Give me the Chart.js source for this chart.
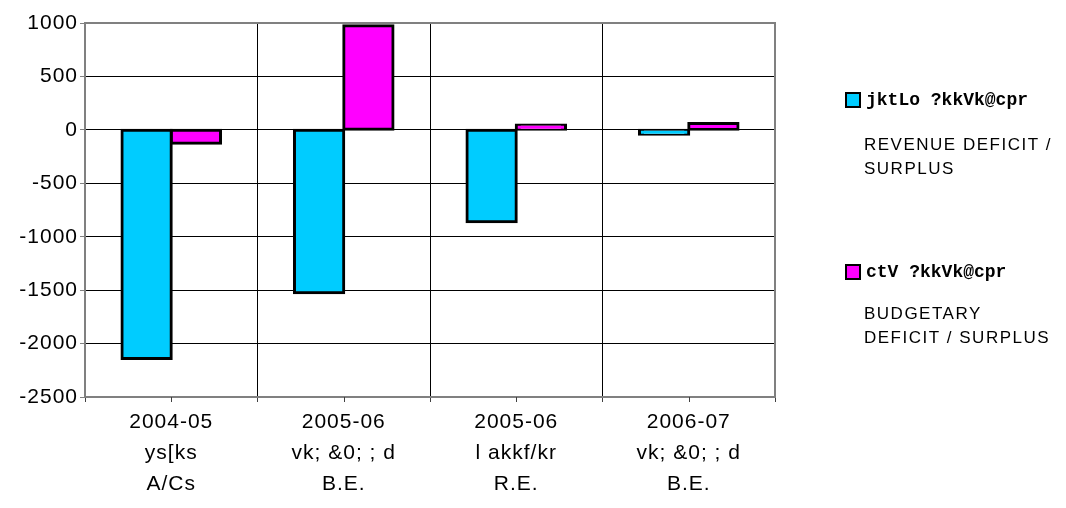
<!DOCTYPE html>
<html>
<head>
<meta charset="utf-8">
<script src="https://cdn.jsdelivr.net/npm/chart.js@4/dist/chart.umd.min.js"></script>
<style>
  html, body { margin: 0; padding: 0; background: #fff; }
  #wrap { width: 1066px; height: 508px; }
</style>
</head>
<body>
<div id="wrap"><canvas id="chart" width="1066" height="508"></canvas></div>
<script>
// categories (three text lines under each group)
const years = ['2004-05', '2005-06', '2005-06', '2006-07'];
const hindiLabels = ['ys[ks', 'vk; &0; ; d', 'l akkf/kr', 'vk; &0; ; d'];
const englishLabels = ['A/Cs', 'B.E.', 'R.E.', 'B.E.'];

// series values
const revenueDeficit = [-2140, -1525, -860, -40];
const budgetaryDeficit = [-125, 975, 45, 60];

// y axis ticks
const yTicks = [1000, 500, 0, -500, -1000, -1500, -2000, -2500];

// legend texts
const legendHindi = ['jktLo ?kkVk@cpr', 'ctV ?kkVk@cpr'];
const legendEnglish = [['REVENUE DEFICIT /', 'SURPLUS'], ['BUDGETARY', 'DEFICIT / SURPLUS']];

const FONT = "'Liberation Sans', Arial, sans-serif";

// spread the letters a little, like the original rendering
const spacingPlugin = {
    id: 'spacing',
    beforeLayout(chart) { chart.ctx.letterSpacing = '1px'; },
    beforeDraw(chart) { chart.ctx.letterSpacing = '1px'; }
};

// plot border, centre ticks and the legend on the right
const framePlugin = {
    id: 'frame',
    afterDatasetsDraw(chart) {
        const ctx = chart.ctx;
        const a = chart.chartArea;
        const xs = chart.scales.x;
        ctx.save();
        ctx.strokeStyle = '#808080';
        ctx.lineWidth = 2;
        ctx.strokeRect(a.left, a.top, a.right - a.left, a.bottom - a.top);

        // small ticks under the middle of each group
        ctx.lineWidth = 1;
        ctx.strokeStyle = '#404040';
        years.forEach((y, i) => {
            const px = Math.round(xs.getPixelForValue(i)) + 0.5;
            ctx.beginPath();
            ctx.moveTo(px, a.bottom);
            ctx.lineTo(px, a.bottom + 5);
            ctx.stroke();
        });

        // legend
        const boxTops = [93, 265];
        const descTops = [145, 314];
        chart.data.datasets.forEach((ds, i) => {
            ctx.fillStyle = ds.backgroundColor;
            ctx.fillRect(846, boxTops[i], 14, 14);
            ctx.strokeStyle = '#000';
            ctx.lineWidth = 2;
            ctx.strokeRect(846, boxTops[i], 14, 14);

            ctx.fillStyle = '#000';
            ctx.textBaseline = 'middle';
            ctx.textAlign = 'left';
            ctx.letterSpacing = '0px';
            ctx.font = "bold 18px 'Liberation Mono', 'DejaVu Sans Mono', monospace";
            ctx.fillText(legendHindi[i], 866, boxTops[i] + 7);

            ctx.letterSpacing = '1.5px';
            ctx.font = '17px ' + FONT;
            legendEnglish[i].forEach((line, j) => {
                ctx.fillText(line, 864, descTops[i] + j * 24);
            });
        });
        ctx.restore();
    }
};

const ctx = document.getElementById('chart').getContext('2d');

new Chart(ctx, {
    type: 'bar',
    data: {
        labels: years.map((y, i) => [y, hindiLabels[i], englishLabels[i]]),
        datasets: [{
            label: legendHindi[0],
            data: revenueDeficit,
            backgroundColor: '#00CCFF',
            borderColor: '#000',
            borderWidth: 3,
            inflateAmount: 1.5,
            borderSkipped: false
        }, {
            label: legendHindi[1],
            data: budgetaryDeficit,
            backgroundColor: '#FF00FF',
            borderColor: '#000',
            borderWidth: 3,
            inflateAmount: 1.5,
            borderSkipped: false
        }]
    },
    options: {
        responsive: false,
        animation: false,
        events: [],
        layout: { padding: { left: 0, right: 291, top: 23, bottom: 0 } },
        categoryPercentage: 2 / 3.5,
        barPercentage: 1,
        plugins: {
            legend: { display: false },
            tooltip: { enabled: false }
        },
        scales: {
            x: {
                afterFit(axis) { axis.height = 111; },
                grid: {
                    offset: true,
                    color: '#000',
                    lineWidth: 1,
                    tickLength: 5,
                    tickColor: '#404040'
                },
                border: { display: false },
                ticks: {
                    color: '#000',
                    padding: 5,
                    maxRotation: 0,
                    autoSkip: false,
                    font: { family: FONT, size: 21, lineHeight: 1.48 }
                }
            },
            y: {
                min: yTicks[yTicks.length - 1],
                max: yTicks[0],
                afterFit(axis) { axis.width = 85; },
                afterBuildTicks(axis) { axis.ticks = yTicks.map(v => ({ value: v })); },
                grid: {
                    color: '#000',
                    lineWidth: 1,
                    tickLength: 5,
                    tickColor: '#808080'
                },
                border: { display: false },
                ticks: {
                    color: '#000',
                    padding: 2,
                    callback: v => String(v),
                    font: { family: FONT, size: 21 }
                }
            }
        }
    },
    plugins: [spacingPlugin, framePlugin]
});
</script>
</body>
</html>
